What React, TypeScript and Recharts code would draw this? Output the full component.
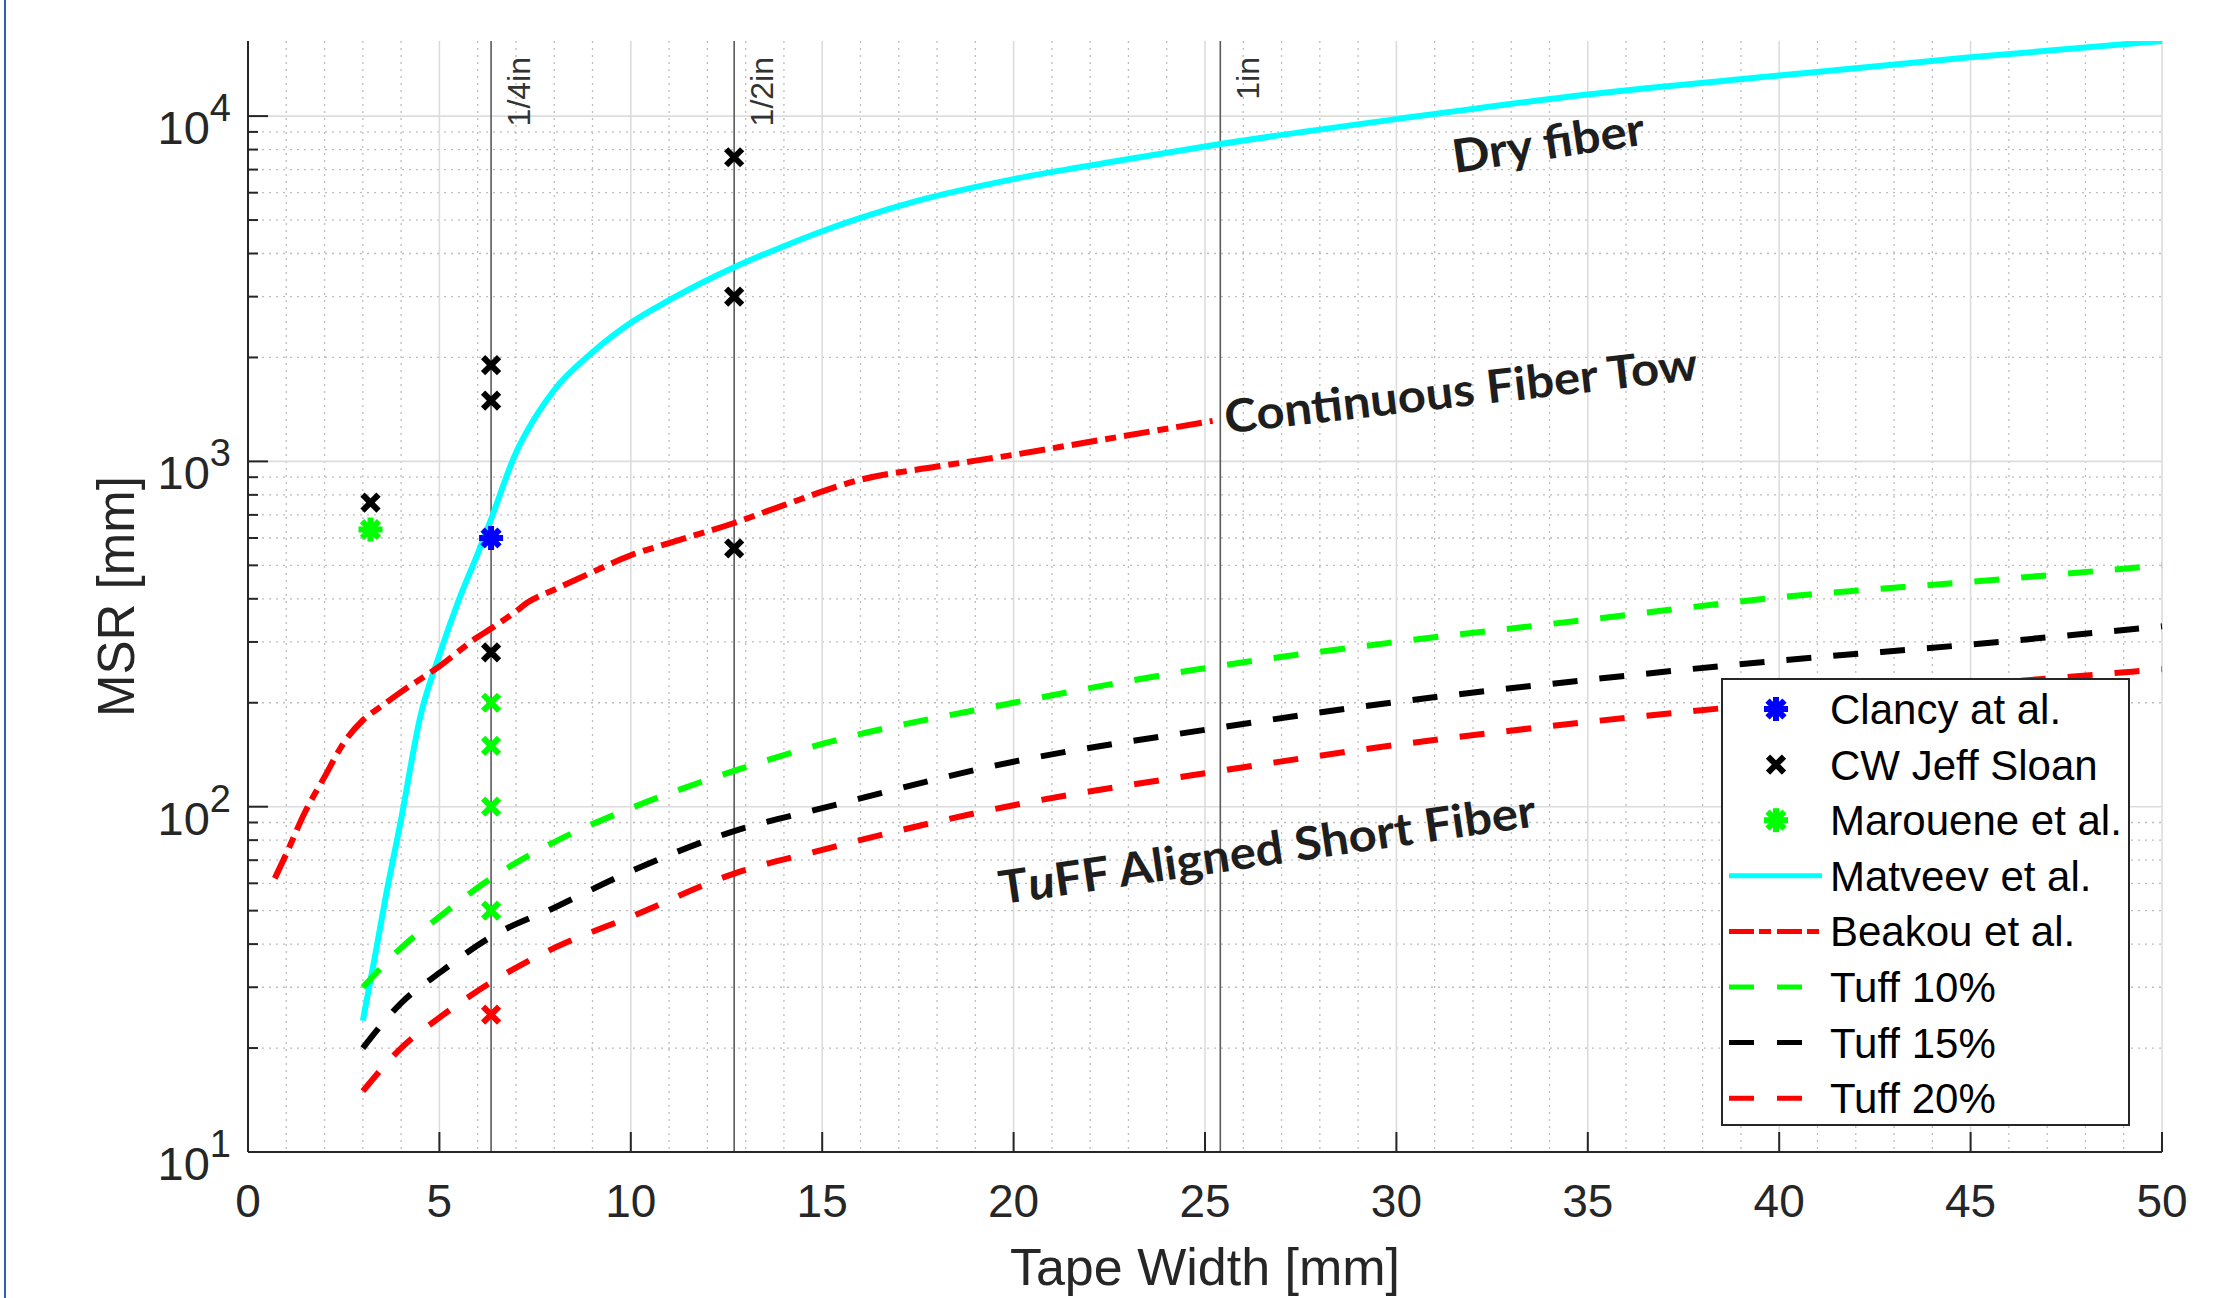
import React from "react";
import {
  ComposedChart,
  Line,
  Scatter,
  XAxis,
  YAxis,
  CartesianGrid,
  ReferenceLine,
  ReferenceDot,
  Legend,
} from "recharts";

const FONT = '"Liberation Sans", Arial, Helvetica, sans-serif';
const NOTE_FONT = 'Lato, "Open Sans", sans-serif';
const INK = "#262626";

// Tape width [mm] / MSR [mm]
const matveevX = [3, 3.3, 3.6, 4, 4.5, 5, 5.5, 6, 6.35, 7, 7.5, 8, 9, 10, 11, 12.7, 14, 15, 16, 17.5, 20, 22.5, 25.4, 30, 35, 40, 45, 50];
const matveevY = [24, 36, 55, 92, 182, 275, 395, 540, 680, 1060, 1340, 1610, 2070, 2520, 2930, 3650, 4200, 4640, 5070, 5690, 6570, 7350, 8300, 9800, 11550, 13100, 14800, 16500];

const beakouX = [0.7, 1, 1.5, 2, 2.5, 3, 3.5, 4, 5, 6, 6.35, 7, 7.3, 8, 9, 10, 11, 12.7, 14, 16, 18, 20, 22, 25.2];
const beakouY = [62, 73, 97, 122, 153, 178, 196, 215, 255, 310, 328, 368, 390, 425, 478, 535, 580, 663, 747, 885, 966, 1045, 1140, 1310];

const tuffX = [3, 4, 5, 6.35, 8, 10, 12.7, 15, 20, 25, 30, 35, 40, 45, 50];
const tuff10Y = [30, 39, 48, 62, 79, 99, 127, 152, 200, 252, 300, 348, 404, 448, 500];
const tuff15Y = [20, 27, 33, 42, 51, 65, 85, 99, 135, 167, 201, 233, 265, 295, 333];
const tuff20Y = [15, 20, 24.5, 31, 39, 48, 64, 75, 101, 125, 151, 176, 200, 225, 250];

const clancyX = [6.35];
const clancyY = [600];
const sloanX = [3.2, 6.35, 6.35, 6.35, 12.7, 12.7, 12.7];
const sloanY = [760, 1900, 1500, 280, 7600, 3000, 560];
const marloueneX = [3.2];
const marloueneY = [635];
const greenCrossX = [6.35, 6.35, 6.35, 6.35];
const greenCrossY = [200, 150, 100, 50];
const redCrossX = [6.35];
const redCrossY = [25];

const inchX = [6.35, 12.7, 25.4];
const inchLabels = ["1/4in", "1/2in", "1in"];

const majorX = [0, 5, 10, 15, 20, 25, 30, 35, 40, 45, 50];
const minorX = Array.from({ length: 51 }, (_, i) => i).filter((v) => v % 5 !== 0);
const majorY = [10, 100, 1000, 10000];
const minorY = [1, 10, 100, 1000].flatMap((d) => [2, 3, 4, 5, 6, 7, 8, 9].map((m) => m * d)).filter((v) => v > 10 && v < 16500);
const yTicks = [...majorY, ...minorY].sort((a, b) => a - b);

const zip = (xs: number[], ys: number[]) => xs.map((x, i) => ({ x, y: ys[i] }));

const matveev = zip(matveevX, matveevY);
const beakou = zip(beakouX, beakouY);
const tuff10 = zip(tuffX, tuff10Y);
const tuff15 = zip(tuffX, tuff15Y);
const tuff20 = zip(tuffX, tuff20Y);
const clancy = zip(clancyX, clancyY);
const sloan = zip(sloanX, sloanY);
const marlouene = zip(marloueneX, marloueneY);
const greenCross = zip(greenCrossX, greenCrossY);
const redCross = zip(redCrossX, redCrossY);

const DASH = "25 22";
const DASH_DOT = "26 8 11 8";

function Asterisk({ cx, cy, color }: { cx: number; cy: number; color: string }) {
  const r = 12;
  const d = r * Math.SQRT1_2;
  return (
    <g stroke={color} strokeWidth={6}>
      <circle cx={cx} cy={cy} r={7} fill={color} stroke="none" />
      <line x1={cx - r} x2={cx + r} y1={cy} y2={cy} />
      <line x1={cx} x2={cx} y1={cy - r} y2={cy + r} />
      <line x1={cx - d} x2={cx + d} y1={cy - d} y2={cy + d} />
      <line x1={cx - d} x2={cx + d} y1={cy + d} y2={cy - d} />
    </g>
  );
}

function Cross({ cx, cy, color }: { cx: number; cy: number; color: string }) {
  const r = 8;
  return (
    <g stroke={color} strokeWidth={6}>
      <line x1={cx - r} x2={cx + r} y1={cy - r} y2={cy + r} />
      <line x1={cx - r} x2={cx + r} y1={cy + r} y2={cy - r} />
    </g>
  );
}

function XTick(props: any) {
  const { x, y, payload } = props;
  return (
    <g>
      <line x1={x} x2={x} y1={y} y2={y - 20} stroke={INK} strokeWidth={2} />
      <text x={x} y={y + 65} textAnchor="middle" fontFamily={FONT} fontSize={46} fill={INK}>
        {payload.value}
      </text>
    </g>
  );
}

function YTick(props: any) {
  const { x, y, payload } = props;
  const exp = Math.log10(payload.value);
  const major = Math.abs(exp - Math.round(exp)) < 1e-9;
  return (
    <g>
      <line x1={x} x2={x + (major ? 20 : 10)} y1={y} y2={y} stroke={INK} strokeWidth={2} />
      {major && (
        <text x={x - 17} y={y + 28} textAnchor="end" fontFamily={FONT} fontSize={47} fill={INK}>
          10
          <tspan dy={-23} fontSize={38}>
            {Math.round(exp)}
          </tspan>
        </text>
      )}
    </g>
  );
}

function note(text: React.ReactNode, angle: number, length: number) {
  return (p: any) => (
    <text
      x={p.cx}
      y={p.cy}
      transform={`rotate(${angle}, ${p.cx}, ${p.cy})`}
      textAnchor="middle"
      dominantBaseline="central"
      fontFamily={NOTE_FONT}
      fontWeight={700}
      fontSize={46}
      fill="#1e1e1e"
      textLength={length}
      lengthAdjust="spacingAndGlyphs"
    >
      {text}
    </text>
  );
}

const legendRows = [
  { name: "Clancy at al.", kind: "asterisk", color: "#0000ff" },
  { name: "CW Jeff Sloan", kind: "cross", color: "#000000" },
  { name: "Marouene et al.", kind: "asterisk", color: "#00ff00" },
  { name: "Matveev et al.", kind: "line", color: "#00ffff", dash: undefined, len: 93 },
  { name: "Beakou et al.", kind: "line", color: "#ff0000", dash: "25 5 12 6", len: 90 },
  { name: "Tuff 10%", kind: "line", color: "#00ff00", dash: "25 23", len: 73 },
  { name: "Tuff 15%", kind: "line", color: "#000000", dash: "25 23", len: 73 },
  { name: "Tuff 20%", kind: "line", color: "#ff0000", dash: "25 23", len: 73 },
];

function LegendBox() {
  const w = 409;
  const h = 448;
  return (
    <svg width={w} height={h} style={{ display: "block" }}>
      <rect x={1} y={1} width={w - 2} height={h - 2} fill="#ffffff" stroke="#262626" strokeWidth={2} />
      {legendRows.map((r, i) => {
        const cy = 31 + i * 55.6;
        return (
          <g key={r.name}>
            {r.kind === "asterisk" && <Asterisk cx={55} cy={cy} color={r.color} />}
            {r.kind === "cross" && <Cross cx={55} cy={cy} color={r.color} />}
            {r.kind === "line" && (
              <line x1={8} x2={8 + (r.len || 0)} y1={cy} y2={cy} stroke={r.color} strokeWidth={5} strokeDasharray={r.dash} />
            )}
            <text x={109} y={cy + 15} fontFamily={FONT} fontSize={42} fill="#000000">
              {r.name}
            </text>
          </g>
        );
      })}
    </svg>
  );
}

export default function App() {
  return (
    <div style={{ position: "absolute", left: 0, top: 0, width: 2213, height: 1298, background: "#ffffff" }}>
      <div style={{ position: "absolute", left: 4, top: 0, width: 2, height: 1298, background: "#2f5fb0" }} />
      <ComposedChart width={2213} height={1298} margin={{ top: 41, right: 51, bottom: 0, left: 0 }}>
        <CartesianGrid
          horizontalValues={minorY}
          verticalValues={minorX}
          stroke="#bdbdbd"
          strokeWidth={1.3}
          strokeDasharray="2 5"
        />
        <CartesianGrid horizontalValues={majorY} verticalValues={majorX} stroke="#dcdcdc" strokeWidth={1.6} />
        <XAxis
          type="number"
          dataKey="x"
          domain={[0, 50]}
          ticks={majorX}
          interval={0}
          height={146}
          tickSize={0}
          tickMargin={0}
          tickLine={false}
          tick={<XTick />}
          axisLine={{ stroke: INK, strokeWidth: 2 }}
          label={(p: any) => (
            <text
              x={p.viewBox.x + p.viewBox.width / 2}
              y={p.viewBox.y + 133}
              textAnchor="middle"
              fontFamily={FONT}
              fontSize={52}
              fill={INK}
            >
              Tape Width [mm]
            </text>
          )}
        />
        <YAxis
          type="number"
          dataKey="y"
          scale="log"
          domain={[10, 16500]}
          allowDataOverflow
          ticks={yTicks}
          interval={0}
          width={248}
          tickSize={0}
          tickMargin={0}
          tickLine={false}
          tick={<YTick />}
          axisLine={{ stroke: INK, strokeWidth: 2 }}
          label={(p: any) => {
            const cx = p.viewBox.x + 134;
            const cy = p.viewBox.y + p.viewBox.height / 2;
            return (
              <text
                x={cx}
                y={cy}
                transform={`rotate(-90, ${cx}, ${cy})`}
                textAnchor="middle"
                fontFamily={FONT}
                fontSize={51}
                fill={INK}
              >
                MSR [mm]
              </text>
            );
          }}
        />
        {inchX.map((v, i) => (
          <ReferenceLine
            key={v}
            x={v}
            stroke="#5a5a5a"
            strokeWidth={1.6}
            label={(p: any) => {
              const lx = p.viewBox.x + 39;
              const ly = p.viewBox.y + 16;
              return (
                <text
                  x={lx}
                  y={ly}
                  transform={`rotate(-90, ${lx}, ${ly})`}
                  textAnchor="end"
                  fontFamily={FONT}
                  fontSize={32}
                  fill="#333333"
                >
                  {inchLabels[i]}
                </text>
              );
            }}
          />
        ))}
        <Line data={matveev} dataKey="y" type="monotone" stroke="#00ffff" strokeWidth={6} dot={false} isAnimationActive={false} />
        <Line data={beakou} dataKey="y" type="monotone" stroke="#ff0000" strokeWidth={6} strokeDasharray={DASH_DOT} dot={false} isAnimationActive={false} />
        <Line data={tuff10} dataKey="y" type="monotone" stroke="#00ff00" strokeWidth={6} strokeDasharray={DASH} dot={false} isAnimationActive={false} />
        <Line data={tuff15} dataKey="y" type="monotone" stroke="#000000" strokeWidth={6} strokeDasharray={DASH} dot={false} isAnimationActive={false} />
        <Line data={tuff20} dataKey="y" type="monotone" stroke="#ff0000" strokeWidth={6} strokeDasharray={DASH} dot={false} isAnimationActive={false} />
        <Scatter data={greenCross} isAnimationActive={false} shape={(p: any) => <Cross cx={p.cx} cy={p.cy} color="#00ff00" />} />
        <Scatter data={redCross} isAnimationActive={false} shape={(p: any) => <Cross cx={p.cx} cy={p.cy} color="#ff0000" />} />
        <Scatter data={sloan} isAnimationActive={false} shape={(p: any) => <Cross cx={p.cx} cy={p.cy} color="#000000" />} />
        <Scatter data={marlouene} isAnimationActive={false} shape={(p: any) => <Asterisk cx={p.cx} cy={p.cy} color="#00ff00" />} />
        <Scatter data={clancy} isAnimationActive={false} shape={(p: any) => <Asterisk cx={p.cx} cy={p.cy} color="#0000ff" />} />
        <ReferenceDot x={33.96} y={8450} r={0} shape={note("Dry fiber", -8.5, 194)} />
        <ReferenceDot x={31.68} y={1620} r={0} shape={note("Continuous Fiber Tow", -6.5, 476)} />
        <ReferenceDot
          x={26.62}
          y={76}
          r={0}
          shape={note(
            <>
              T<tspan fontStyle="italic">u</tspan>FF Aligned Short Fiber
            </>,
            -8.3,
            542
          )}
        />
        <Legend
          layout="vertical"
          align="center"
          verticalAlign="middle"
          wrapperStyle={{ left: 1721, top: 678, width: 409, height: 448 }}
          content={() => <LegendBox />}
        />
      </ComposedChart>
    </div>
  );
}
